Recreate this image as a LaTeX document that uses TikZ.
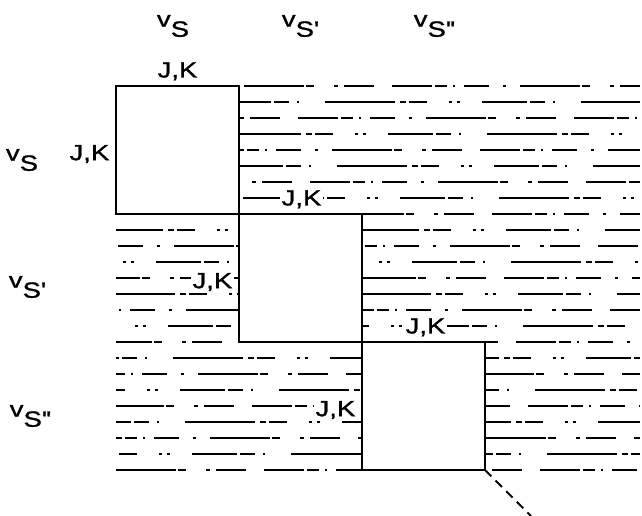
\documentclass[tikz,border=0pt]{standalone}
\usepackage{fontspec}
\setmainfont[FakeStretch=1.25, FakeBold=1.2]{Liberation Sans}
\usepackage{tikz}
\usetikzlibrary{positioning}

\newcommand{\vS}[1]{v\raisebox{-10pt}{S#1}}
\newcommand{\pr}{\textquotesingle}

\begin{document}
\begin{tikzpicture}[x=1pt,y=1pt,
    lab/.style={font=\fontsize{22}{24}\selectfont, inner sep=1.5pt},
    jk/.style={lab, fill=white},
    block/.style={draw, line width=2.4pt, fill=white, minimum width=123pt, minimum height=128pt, inner sep=0pt, outer sep=0pt},
    hatchA/.style={black, line width=1.1pt, dash pattern=on 40pt off 3pt on 12pt off 6pt on 2pt off 9pt on 25pt off 14pt on 3pt off 14pt on 60pt off 2pt on 8pt off 20pt on 4pt off 6pt on 30pt off 18pt},
    hatchB/.style={black, line width=1.1pt, dash pattern=on 70pt off 5pt on 6pt off 3pt on 18pt off 22pt on 3pt off 5pt on 3pt off 22pt on 45pt off 3pt on 15pt off 8pt on 2pt off 26pt}]
    \useasboundingbox (0,0) rectangle (642,516);

    % Rows of the matrix (broken lines)
    \foreach \k in {0,...,24} {
        \pgfmathtruncatemacro\y{430-16*\k}
        \pgfmathtruncatemacro\ph{mod(\k*47,200)}
        \ifodd\k
            \draw[hatchB, dash phase=\ph pt] (116,\y) -- (640,\y);
        \else
            \draw[hatchA, dash phase=\ph pt] (116,\y) -- (640,\y);
        \fi
    }

    % Diagonal blocks
    \node[block] (b1) at (177.5,366) {};
    \node[block] (b2) at (300.5,238) {};
    \node[block] (b3) at (423.5,110) {};

    % Block labels
    \node[jk, above=4pt of b1] (jk1t) {J,K};
    \node[jk, left=5pt of b1, yshift=-4pt] (jk1l) {J,K};
    \node[jk, above=4pt of b2, xshift=1pt] (jk2t) {J,K};
    \node[jk, left=5pt of b2, yshift=-4pt] (jk2l) {J,K};
    \node[jk, above=4pt of b3, xshift=2pt] (jk3t) {J,K};
    \node[jk, left=5pt of b3, yshift=-4pt] (jk3l) {J,K};

    % Column and row labels
    \node[lab] (colS) at (173,490) {\vS{}};
    \node[lab] (colSp) at (300,490) {\vS{\pr}};
    \node[lab] (colSpp) at (434,490) {\vS{\pr\pr}};
    \node[lab] (rowS) at (22,356) {\vS{}};
    \node[lab] (rowSp) at (27,229) {\vS{\pr}};
    \node[lab] (rowSpp) at (30,100) {\vS{\pr\pr}};

    % Continuation of the diagonal
    \coordinate (tail) at (531,0);
    \draw[line width=1.8pt, dash pattern=on 9pt off 6pt] (b3.south east) -- (tail);
\end{tikzpicture}
\end{document}
